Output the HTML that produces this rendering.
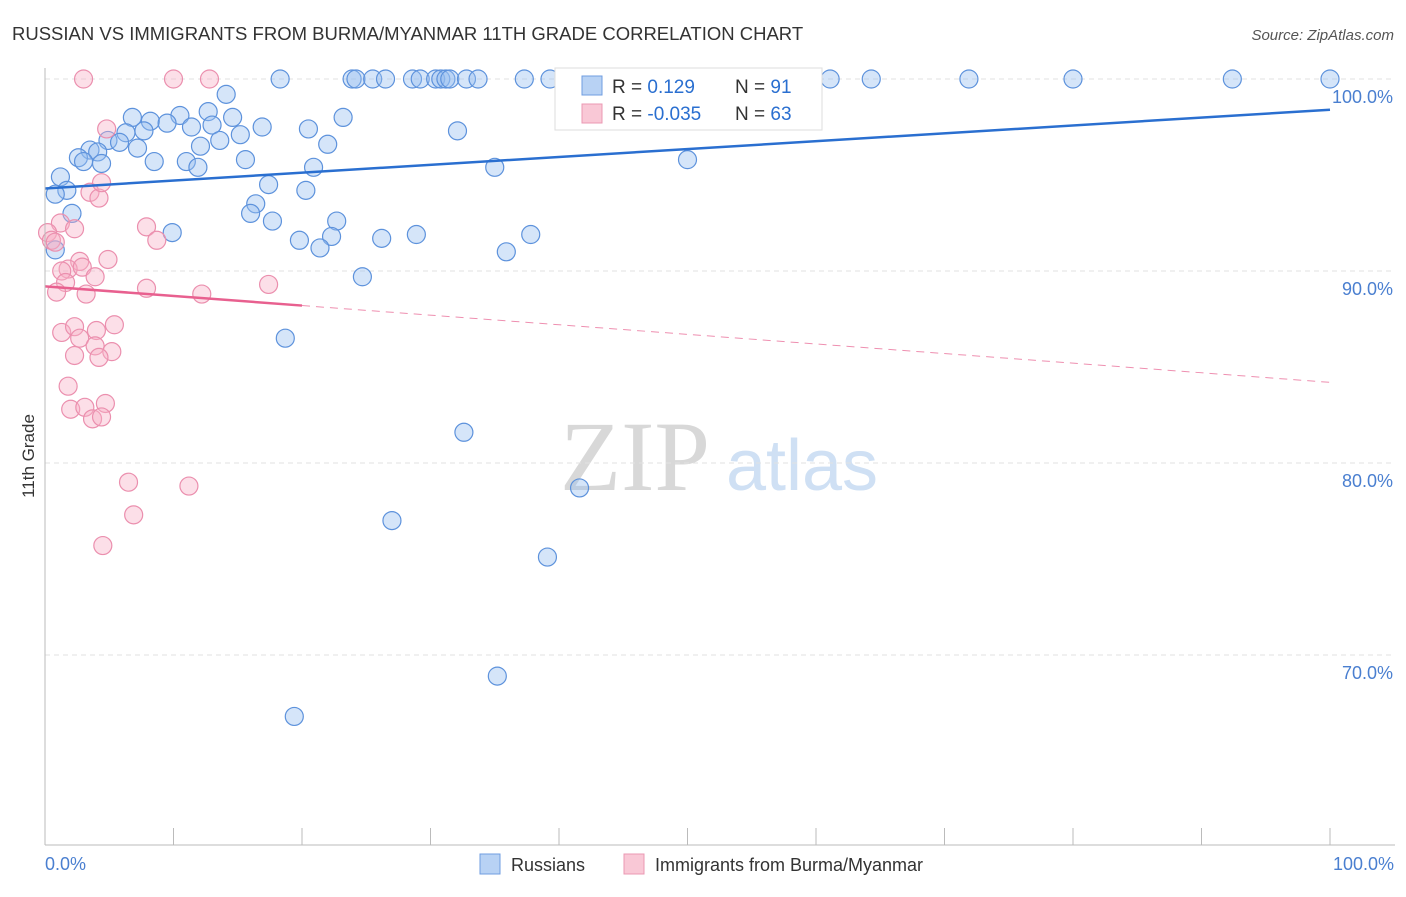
<!DOCTYPE html>
<html><head><meta charset="utf-8"><style>
body{margin:0;background:#fff;font-family:"Liberation Sans",sans-serif;}
</style></head><body>
<svg id="c" width="1406" height="892" xmlns="http://www.w3.org/2000/svg" font-family="Liberation Sans, sans-serif">
<text x="12" y="40" font-size="18.5" fill="#333">RUSSIAN VS IMMIGRANTS FROM BURMA/MYANMAR 11TH GRADE CORRELATION CHART</text>
<text x="1394" y="40" font-size="15" fill="#555" font-style="italic" text-anchor="end">Source: ZipAtlas.com</text>
<text x="34" y="456" font-size="17" fill="#333" text-anchor="middle" transform="rotate(-90 34 456)">11th Grade</text>
<g><text x="635" y="490" font-size="100" fill="#d8d8d8" style="font-family:'Liberation Serif',serif" text-anchor="middle">ZIP</text><text x="802" y="490" font-size="72" fill="#cfe0f4" text-anchor="middle">atlas</text></g>
<g id="grid"></g><g id="ticks"></g><g id="pts"></g><g id="lines"></g>
<line x1="45" y1="68" x2="45" y2="845" stroke="#bbb"/>
<line x1="45" y1="845" x2="1395" y2="845" stroke="#bbb"/>
<text x="45" y="870" font-size="18" fill="#4a7fd0">0.0%</text>
<text x="1394" y="870" font-size="18" fill="#4a7fd0" text-anchor="end">100.0%</text>
<g>
<rect x="555" y="68" width="267" height="62" fill="#fff" stroke="#ddd"/>
<rect x="582" y="76" width="20" height="19" fill="#b8d2f4" stroke="#6f9de0"/>
<rect x="582" y="104" width="20" height="19" fill="#f9c8d6" stroke="#eb98b3"/>
<text x="612" y="93" font-size="19" fill="#333">R = <tspan fill="#2a6fd0"> 0.129</tspan><tspan x="735">N = </tspan><tspan fill="#2a6fd0"> 91</tspan></text>
<text x="612" y="120" font-size="19" fill="#333">R = <tspan fill="#2a6fd0">-0.035</tspan><tspan x="735">N = </tspan><tspan fill="#2a6fd0"> 63</tspan></text>
</g>
<g><rect x="480" y="854" width="20" height="20" fill="#b8d2f4" stroke="#6f9de0"/><text x="511" y="871" font-size="18" fill="#333">Russians</text></g>
<g><rect x="624" y="854" width="20" height="20" fill="#f9c8d6" stroke="#eb98b3"/><text x="655" y="871" font-size="18" fill="#333">Immigrants from Burma/Myanmar</text></g>
</svg>
<script>
const yTicks=[100,90,80,70];
const xTickVals=[0,10,20,30,40,50,60,70,80,90,100];
const blueX=[18.3,23.9,24.2,25.5,26.5,28.6,29.2,30.4,30.8,31.2,31.5,32.8,33.7,37.3,39.3,40.5,47.1,51,52.2,59.4,61.1,64.3,71.9,80,92.4,100,
14.1,6.8,12.7,10.5,8.2,9.5,11.4,13.0,14.6,16.9,20.5,23.2,32.1,6.3,7.7,4.9,15.2,13.6,5.8,3.5,2.6,7.2,4.1,3.0,4.4,8.5,11.0,11.9,15.6,12.1,22.0,20.9,35.0,50.0,1.2,1.7,0.8,17.4,20.3,16.4,16.0,17.7,22.7,2.1,9.9,19.8,22.3,21.4,26.2,28.9,37.8,35.9,24.7,18.7,32.6,41.6,27.0,39.1,35.2,19.4,0.8];
const blueY=[100,100,100,100,100,100,100,100,100,100,100,100,100,100,100,100,100,100,100,100,100,100,100,100,100,100,
99.2,98.0,98.3,98.1,97.8,97.7,97.5,97.6,98.0,97.5,97.4,98.0,97.3,97.2,97.3,96.8,97.1,96.8,96.7,96.3,95.9,96.4,96.2,95.7,95.6,95.7,95.7,95.4,95.8,96.5,96.6,95.4,95.4,95.8,94.9,94.2,94.0,94.5,94.2,93.5,93.0,92.6,92.6,93.0,92.0,91.6,91.8,91.2,91.7,91.9,91.9,91.0,89.7,86.5,81.6,78.7,77.0,75.1,68.9,66.8,91.1];
const pinkX=[3.0,10.0,12.8,4.8,3.5,4.2,4.4,1.2,2.3,7.9,8.7,0.2,0.5,0.8,2.7,1.8,4.9,2.9,1.3,3.9,1.6,0.9,3.2,7.9,12.2,17.4,5.4,1.3,2.3,2.7,4.0,3.9,2.3,5.2,4.2,1.8,2.0,3.1,4.7,3.7,4.4,6.5,11.2,6.9,4.5];
const pinkY=[100,100,100,97.4,94.1,93.8,94.6,92.5,92.2,92.3,91.6,92.0,91.6,91.5,90.5,90.1,90.6,90.2,90.0,89.7,89.4,88.9,88.8,89.1,88.8,89.3,87.2,86.8,87.1,86.5,86.9,86.1,85.6,85.8,85.5,84.0,82.8,82.9,83.1,82.3,82.4,79.0,78.8,77.3,75.7];
const blueTrend=[94.3,98.4];
const pinkTrend=[89.2,84.2];
const NS="http://www.w3.org/2000/svg";
const sx=v=>45+v*12.85, sy=v=>79+(100-v)*19.2;
function mk(t,a,p){const e=document.createElementNS(NS,t);for(const k in a)e.setAttribute(k,a[k]);p.appendChild(e);return e;}
const grid=document.getElementById('grid'),ticks=document.getElementById('ticks'),pts=document.getElementById('pts'),lines=document.getElementById('lines');
yTicks.forEach(v=>{
 const l=mk('line',{x1:45,x2:1395,y1:sy(v),y2:sy(v),stroke:'#e2e2e2','stroke-dasharray':'5,4'},grid);
 
 
 const t=mk('text',{x:1393,y:sy(v)+24,'font-size':18,fill:'#4a7fd0','text-anchor':'end'},ticks);
 t.textContent=v.toFixed(1)+'%';
 
 
});
xTickVals.forEach(v=>{
 const l=mk('line',{x1:sx(v),x2:sx(v),y1:828,y2:845,stroke:'#bbb'},ticks);
 
 
});
blueX.forEach((x,i)=>{
 const c=mk('circle',{cx:sx(x),cy:sy(blueY[i]),r:9,fill:'rgba(150,190,240,0.4)',stroke:'#5d92dc','stroke-width':1.2},pts);
 
 
});
pinkX.forEach((x,i)=>{
 const c=mk('circle',{cx:sx(x),cy:sy(pinkY[i]),r:9,fill:'rgba(248,175,198,0.4)',stroke:'#eb8fae','stroke-width':1.2},pts);
 
 
});
const bl=mk('line',{x1:sx(0),y1:sy(blueTrend[0]),x2:sx(100),y2:sy(blueTrend[1]),stroke:'#2a6fd0','stroke-width':2.5},lines);


const pm=pinkTrend[0]+(pinkTrend[1]-pinkTrend[0])*0.2;
const pl=mk('line',{x1:sx(0),y1:sy(pinkTrend[0]),x2:sx(20),y2:sy(pm),stroke:'#e8608f','stroke-width':2.5},lines);


const pd=mk('line',{x1:sx(20),y1:sy(pm),x2:sx(100),y2:sy(pinkTrend[1]),stroke:'#e8608f','stroke-width':1,'stroke-dasharray':'8,6',opacity:0.7},lines);


</script>
</body></html>
